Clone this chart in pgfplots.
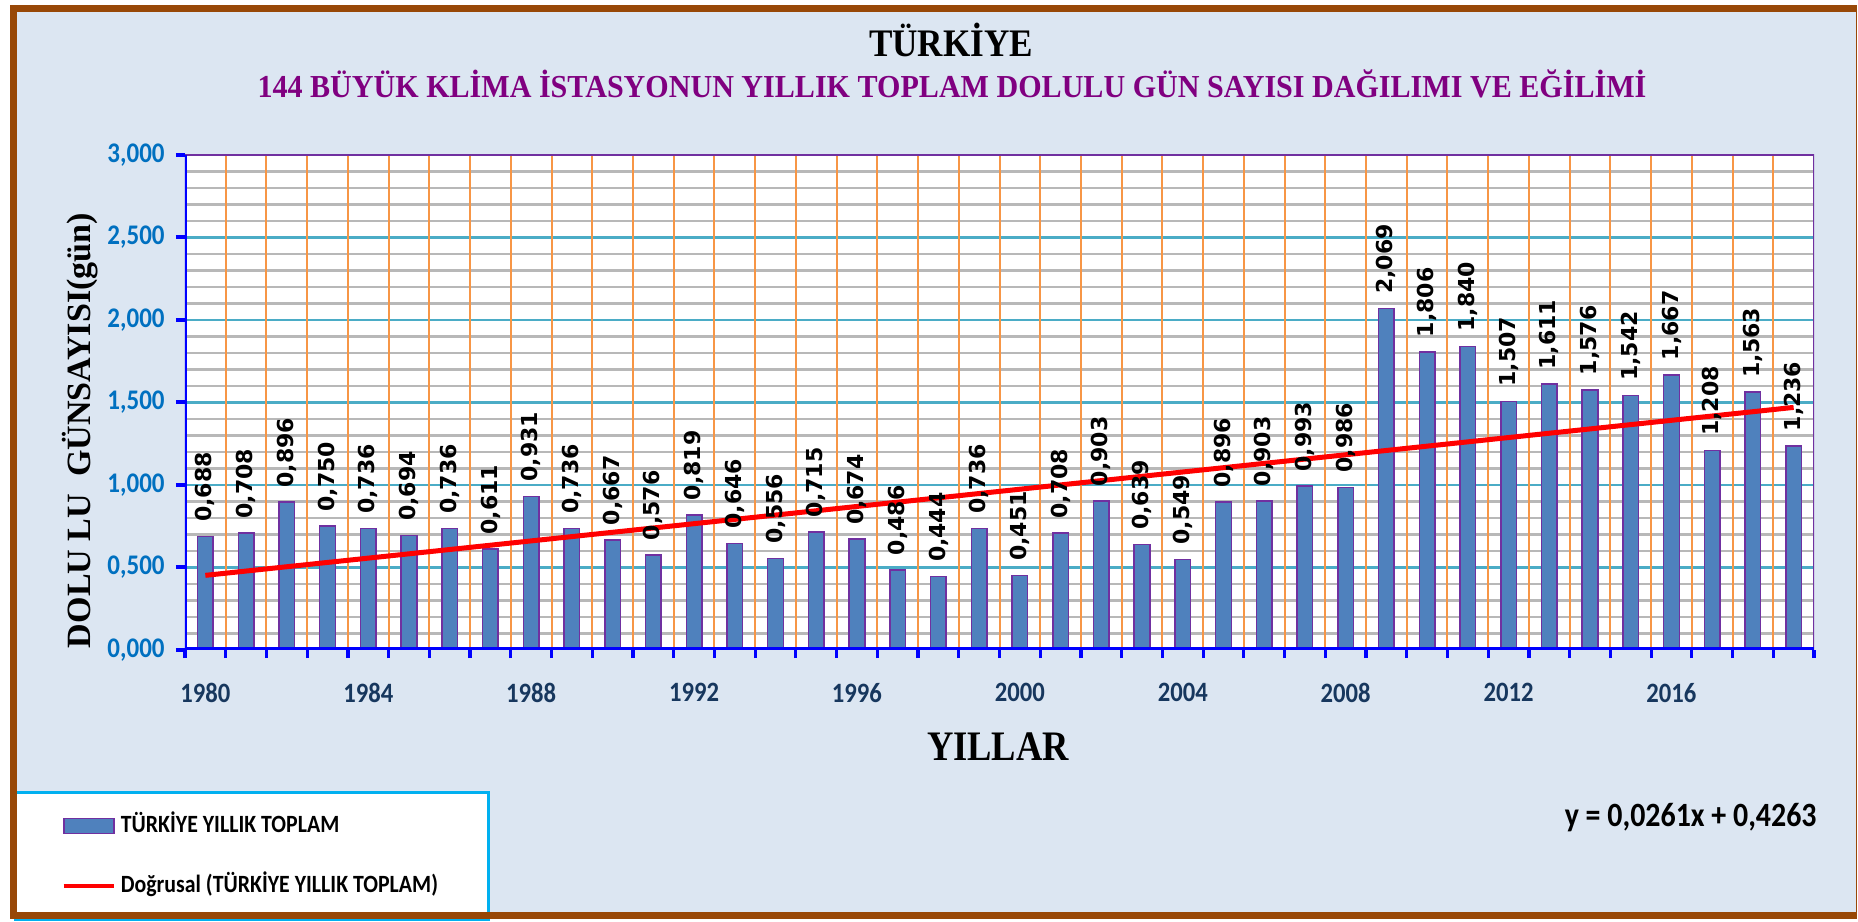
\documentclass[border=0pt]{standalone}
\usepackage{pgfplots}
\pgfplotsset{compat=1.18}
\usepackage{pgfplotstable}
\usepackage{graphicx}
\usepackage{fontspec}
\setmainfont{Carlito}[FakeStretch=0.88]
\newfontfamily\tnr{Liberation Serif}
\newfontfamily\dvs{DejaVu Sans}
\definecolor{bgblue}{HTML}{DCE6F2}
\definecolor{brownb}{HTML}{984807}
\definecolor{cyanb}{HTML}{00B0F0}
\definecolor{barblue}{HTML}{4F81BD}
\definecolor{barpurple}{HTML}{7030A0}
\definecolor{gridteal}{HTML}{4BACC6}
\definecolor{gridgray}{HTML}{B8B8B8}
\definecolor{gridorange}{HTML}{F79646}
\definecolor{ticklblue}{HTML}{0070C0}
\definecolor{xlabnavy}{HTML}{17375E}
\definecolor{subpurple}{HTML}{800080}
\pgfplotstableread{
idx year val
0 1980 0.688
1 1981 0.708
2 1982 0.896
3 1983 0.750
4 1984 0.736
5 1985 0.694
6 1986 0.736
7 1987 0.611
8 1988 0.931
9 1989 0.736
10 1990 0.667
11 1991 0.576
12 1992 0.819
13 1993 0.646
14 1994 0.556
15 1995 0.715
16 1996 0.674
17 1997 0.486
18 1998 0.444
19 1999 0.736
20 2000 0.451
21 2001 0.708
22 2002 0.903
23 2003 0.639
24 2004 0.549
25 2005 0.896
26 2006 0.903
27 2007 0.993
28 2008 0.986
29 2009 2.069
30 2010 1.806
31 2011 1.840
32 2012 1.507
33 2013 1.611
34 2014 1.576
35 2015 1.542
36 2016 1.667
37 2017 1.208
38 2018 1.563
39 2019 1.236
}\datatable
\begin{document}
\begin{tikzpicture}
\fill[white] (0,0) rectangle (929pt,460.5pt);
\fill[bgblue] (6.7pt,3pt) rectangle (928.25pt,456.25pt);
\begin{axis}[
  at={(92.5pt,135.5pt)}, anchor=south west,
  scale only axis, width=814.5pt, height=247.5pt,
  xmin=-0.5, xmax=39.5, ymin=0, ymax=3,
  axis background/.style={fill=white},
  axis line style={draw=none},
  tick pos=left,
  xtick={0,4,...,36},
  xticklabels={1980,1984,1988,1992,1996,2000,2004,2008,2012,2016},
  minor xtick={-0.5,0.5,...,39.5},
  ytick={0,0.5,1,1.5,2,2.5,3},
  tick align=outside,
  major tick length=4.5pt, minor tick length=4pt,
  major x tick style={draw=none},
  minor x tick style={draw=blue, line width=1.6pt},
  major y tick style={draw=blue, line width=2pt},
  yticklabel style={font=\bfseries\fontsize{14.2}{15}\selectfont, text=ticklblue, inner sep=0pt, xshift=-5.5pt,
    /pgf/number format/.cd, fixed, fixed zerofill, precision=3, use comma, assume math mode=true},
  xticklabel style={font=\bfseries\fontsize{14}{15}\selectfont, text=xlabnavy, inner sep=0pt, yshift=-12pt},
  legend cell align=left,
  legend style={at={(axis description cs:-0.105,-0.2848)}, anchor=north west,
    draw=cyanb, line width=1.5pt, fill=white, inner xsep=23pt, inner ysep=11pt, row sep=18.5pt,
    font=\bfseries\fontsize{12.4}{14}\selectfont,
    nodes={inner xsep=2.5pt, inner ysep=0pt, text height=9pt, text depth=2.5pt}},
]
\pgfplotsinvokeforeach{0.1,0.2,0.3,0.4,0.6,0.7,0.8,0.9,1.1,1.2,1.3,1.4,1.6,1.7,1.8,1.9,2.1,2.2,2.3,2.4,2.6,2.7,2.8,2.9}{
  \draw[gridgray, line width=1.2pt] (axis cs:-0.5,#1) -- (axis cs:39.5,#1);}
\pgfplotsinvokeforeach{0.5,1,1.5,2,2.5}{
  \draw[gridteal, line width=1.4pt] (axis cs:-0.5,#1) -- (axis cs:39.5,#1);}
\pgfplotsinvokeforeach{0.5,1.5,...,38.5}{
  \draw[gridorange, line width=1pt] (axis cs:#1,0) -- (axis cs:#1,3);}
\addplot[ybar, bar width=7.8pt, bar shift=0pt, fill=barblue, draw=barpurple, line width=0.75pt,
  legend image code/.code={\draw[fill=barblue, draw=barpurple, line width=0.9pt] (0pt,-3.75pt) rectangle (25pt,3.75pt);},
  nodes near coords={\pgfmathprintnumber[fixed,fixed zerofill,precision=3,use comma,assume math mode=true]{\pgfplotspointmeta}},
  every node near coord/.append style={rotate=90, anchor=west, inner xsep=7pt, inner ysep=0pt, text=black,
    font=\dvs\bfseries\fontsize{11}{13}\selectfont}]
  table[x=idx, y=val] {\datatable};
\addlegendentry{TÜRKİYE YILLIK TOPLAM}
\addplot[red, line width=2.5pt, sharp plot, no marks,
  legend image code/.code={\draw[red, line width=2.2pt] (0pt,0pt) -- (25pt,0pt);}]
  coordinates {(0,0.4524) (39,1.4703)};
\addlegendentry{Doğrusal (TÜRKİYE YILLIK TOPLAM)}
\draw[barpurple, line width=1.4pt] (rel axis cs:0,1) -- (rel axis cs:1,1) -- (rel axis cs:1,0);
\draw[blue, line width=2.2pt] (rel axis cs:0,1) -- (rel axis cs:0,0);
\draw[blue, line width=2.5pt] (rel axis cs:0,0) -- (rel axis cs:1,0);
\end{axis}
\draw[brownb, line width=3.5pt] (928.25pt,456.25pt) -- (6.7pt,456.25pt) -- (6.7pt,3pt) -- (928.25pt,3pt);
\draw[brownb, line width=0.8pt] (928.25pt,456.25pt) -- (928.25pt,3pt);
\node[anchor=base, inner sep=0pt] at (475.5pt,432pt) {\tnr\bfseries\fontsize{19.5}{22}\selectfont\resizebox{82pt}{\height}{TÜRKİYE}};
\node[anchor=base, inner sep=0pt, text=subpurple] at (476pt,411.5pt) {\tnr\bfseries\fontsize{16}{19}\selectfont\resizebox{694.5pt}{\height}{144 BÜYÜK KLİMA İSTASYONUN YILLIK TOPLAM DOLULU GÜN SAYISI DAĞILIMI VE EĞİLİMİ}};
\node[anchor=base, inner sep=0pt, rotate=90] at (45pt,245.25pt) {\tnr\bfseries\fontsize{17}{19}\selectfont\resizebox{217.5pt}{\height}{DOLU LU\ \ GÜNSAYISI(gün)}};
\node[anchor=base, inner sep=0pt] at (499pt,80pt) {\tnr\bfseries\fontsize{21}{24}\selectfont\resizebox{71pt}{\height}{YILLAR}};
\node[anchor=base east, inner sep=0pt] at (908.5pt,47pt) {\bfseries\fontsize{17}{20}\selectfont y = 0,0261x + 0,4263};
\pgfresetboundingbox
\path[use as bounding box] (0,0) rectangle (929pt,460.5pt);
\end{tikzpicture}
\end{document}
